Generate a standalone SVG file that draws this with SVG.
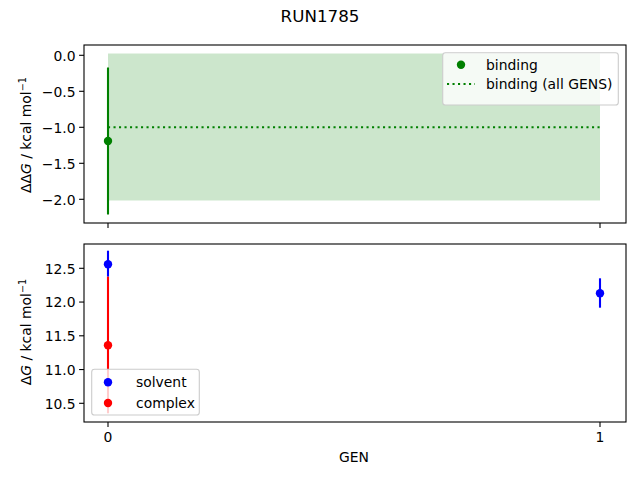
<svg xmlns="http://www.w3.org/2000/svg" width="640" height="480" viewBox="0 0 640 480">
<style>
text{font-family:"DejaVu Sans","Liberation Sans",sans-serif;font-size:13.9px;fill:#000}
.tl{text-anchor:end}
.tc{text-anchor:middle}
.ax{fill:none;stroke:#000;stroke-width:1.1;stroke-linecap:square}
.tk{stroke:#000;stroke-width:1.1}
.eb{stroke-width:2.1;fill:none}
.leg{fill:#fff;fill-opacity:0.8;stroke:#ccc;stroke-width:1.1}
.sup{font-size:9.7px}
</style>
<rect width="640" height="480" fill="#fff"/>
<text x="320" y="22" class="tc" style="font-size:16.7px">RUN1785</text>

<g id="top-axes">
<rect x="108" y="53.5" width="492" height="147" fill="#008000" fill-opacity="0.2"/>
<line x1="108" y1="127.3" x2="600" y2="127.3" stroke="#008000" stroke-width="2.1" stroke-dasharray="2.1,3.4"/>
<line x1="108" y1="67.5" x2="108" y2="214.5" class="eb" stroke="#008000"/>
<circle cx="108" cy="141" r="4.2" fill="#008000"/>
<rect x="84" y="45" width="542" height="178" class="ax"/>
<g class="tk">
<line x1="84" y1="55.3" x2="79.1" y2="55.3"/>
<line x1="84" y1="91.3" x2="79.1" y2="91.3"/>
<line x1="84" y1="127.3" x2="79.1" y2="127.3"/>
<line x1="84" y1="163.3" x2="79.1" y2="163.3"/>
<line x1="84" y1="199.3" x2="79.1" y2="199.3"/>
<line x1="108" y1="223" x2="108" y2="227.9"/>
<line x1="600" y1="223" x2="600" y2="227.9"/>
</g>
<text x="75.6" y="60.5" class="tl">0.0</text>
<text x="75.6" y="96.5" class="tl">−0.5</text>
<text x="75.6" y="132.5" class="tl">−1.0</text>
<text x="75.6" y="168.5" class="tl">−1.5</text>
<text x="75.6" y="204.5" class="tl">−2.0</text>
<text transform="translate(31,135) rotate(-90)" class="tc">ΔΔ<tspan font-style="italic">G</tspan> / kcal mol<tspan class="sup" dy="-5.5">−1</tspan></text>
</g>

<g id="top-legend">
<rect x="442.7" y="52.7" width="175.6" height="52.3" rx="2.8" class="leg"/>
<circle cx="461" cy="64.7" r="4.2" fill="#008000"/>
<line x1="447" y1="84" x2="475" y2="84" stroke="#008000" stroke-width="2.1" stroke-dasharray="2.1,3.4"/>
<text x="486" y="69.5">binding</text>
<text x="486" y="89">binding (all GENS)</text>
</g>

<g id="bottom-axes">
<line x1="108" y1="250.7" x2="108" y2="276.7" class="eb" stroke="#0000ff"/>
<line x1="600" y1="278.3" x2="600" y2="307.7" class="eb" stroke="#0000ff"/>
<line x1="108" y1="276.7" x2="108" y2="413.3" class="eb" stroke="#ff0000"/>
<circle cx="108" cy="264.3" r="4.2" fill="#0000ff"/>
<circle cx="600" cy="293.3" r="4.2" fill="#0000ff"/>
<circle cx="108" cy="345.3" r="4.2" fill="#ff0000"/>
<rect x="84" y="244" width="542" height="178" class="ax"/>
<g class="tk">
<line x1="84" y1="268.3" x2="79.1" y2="268.3"/>
<line x1="84" y1="302.05" x2="79.1" y2="302.05"/>
<line x1="84" y1="335.8" x2="79.1" y2="335.8"/>
<line x1="84" y1="369.55" x2="79.1" y2="369.55"/>
<line x1="84" y1="403.3" x2="79.1" y2="403.3"/>
<line x1="108" y1="422" x2="108" y2="426.9"/>
<line x1="600" y1="422" x2="600" y2="426.9"/>
</g>
<text x="75.6" y="273.5" class="tl">12.5</text>
<text x="75.6" y="307.3" class="tl">12.0</text>
<text x="75.6" y="341" class="tl">11.5</text>
<text x="75.6" y="374.8" class="tl">11.0</text>
<text x="75.6" y="408.5" class="tl">10.5</text>
<text x="108" y="441.7" class="tc">0</text>
<text x="600" y="441.7" class="tc">1</text>
<text x="354" y="461.7" class="tc">GEN</text>
<text transform="translate(31,332) rotate(-90)" class="tc">Δ<tspan font-style="italic">G</tspan> / kcal mol<tspan class="sup" dy="-5.5">−1</tspan></text>
</g>

<g id="bottom-legend">
<rect x="91.7" y="369.3" width="107.6" height="45.7" rx="2.8" class="leg"/>
<circle cx="108" cy="382.3" r="4.2" fill="#0000ff"/>
<circle cx="108" cy="403" r="4.2" fill="#ff0000"/>
<text x="136" y="387.2">solvent</text>
<text x="136" y="407.9">complex</text>
</g>
</svg>
